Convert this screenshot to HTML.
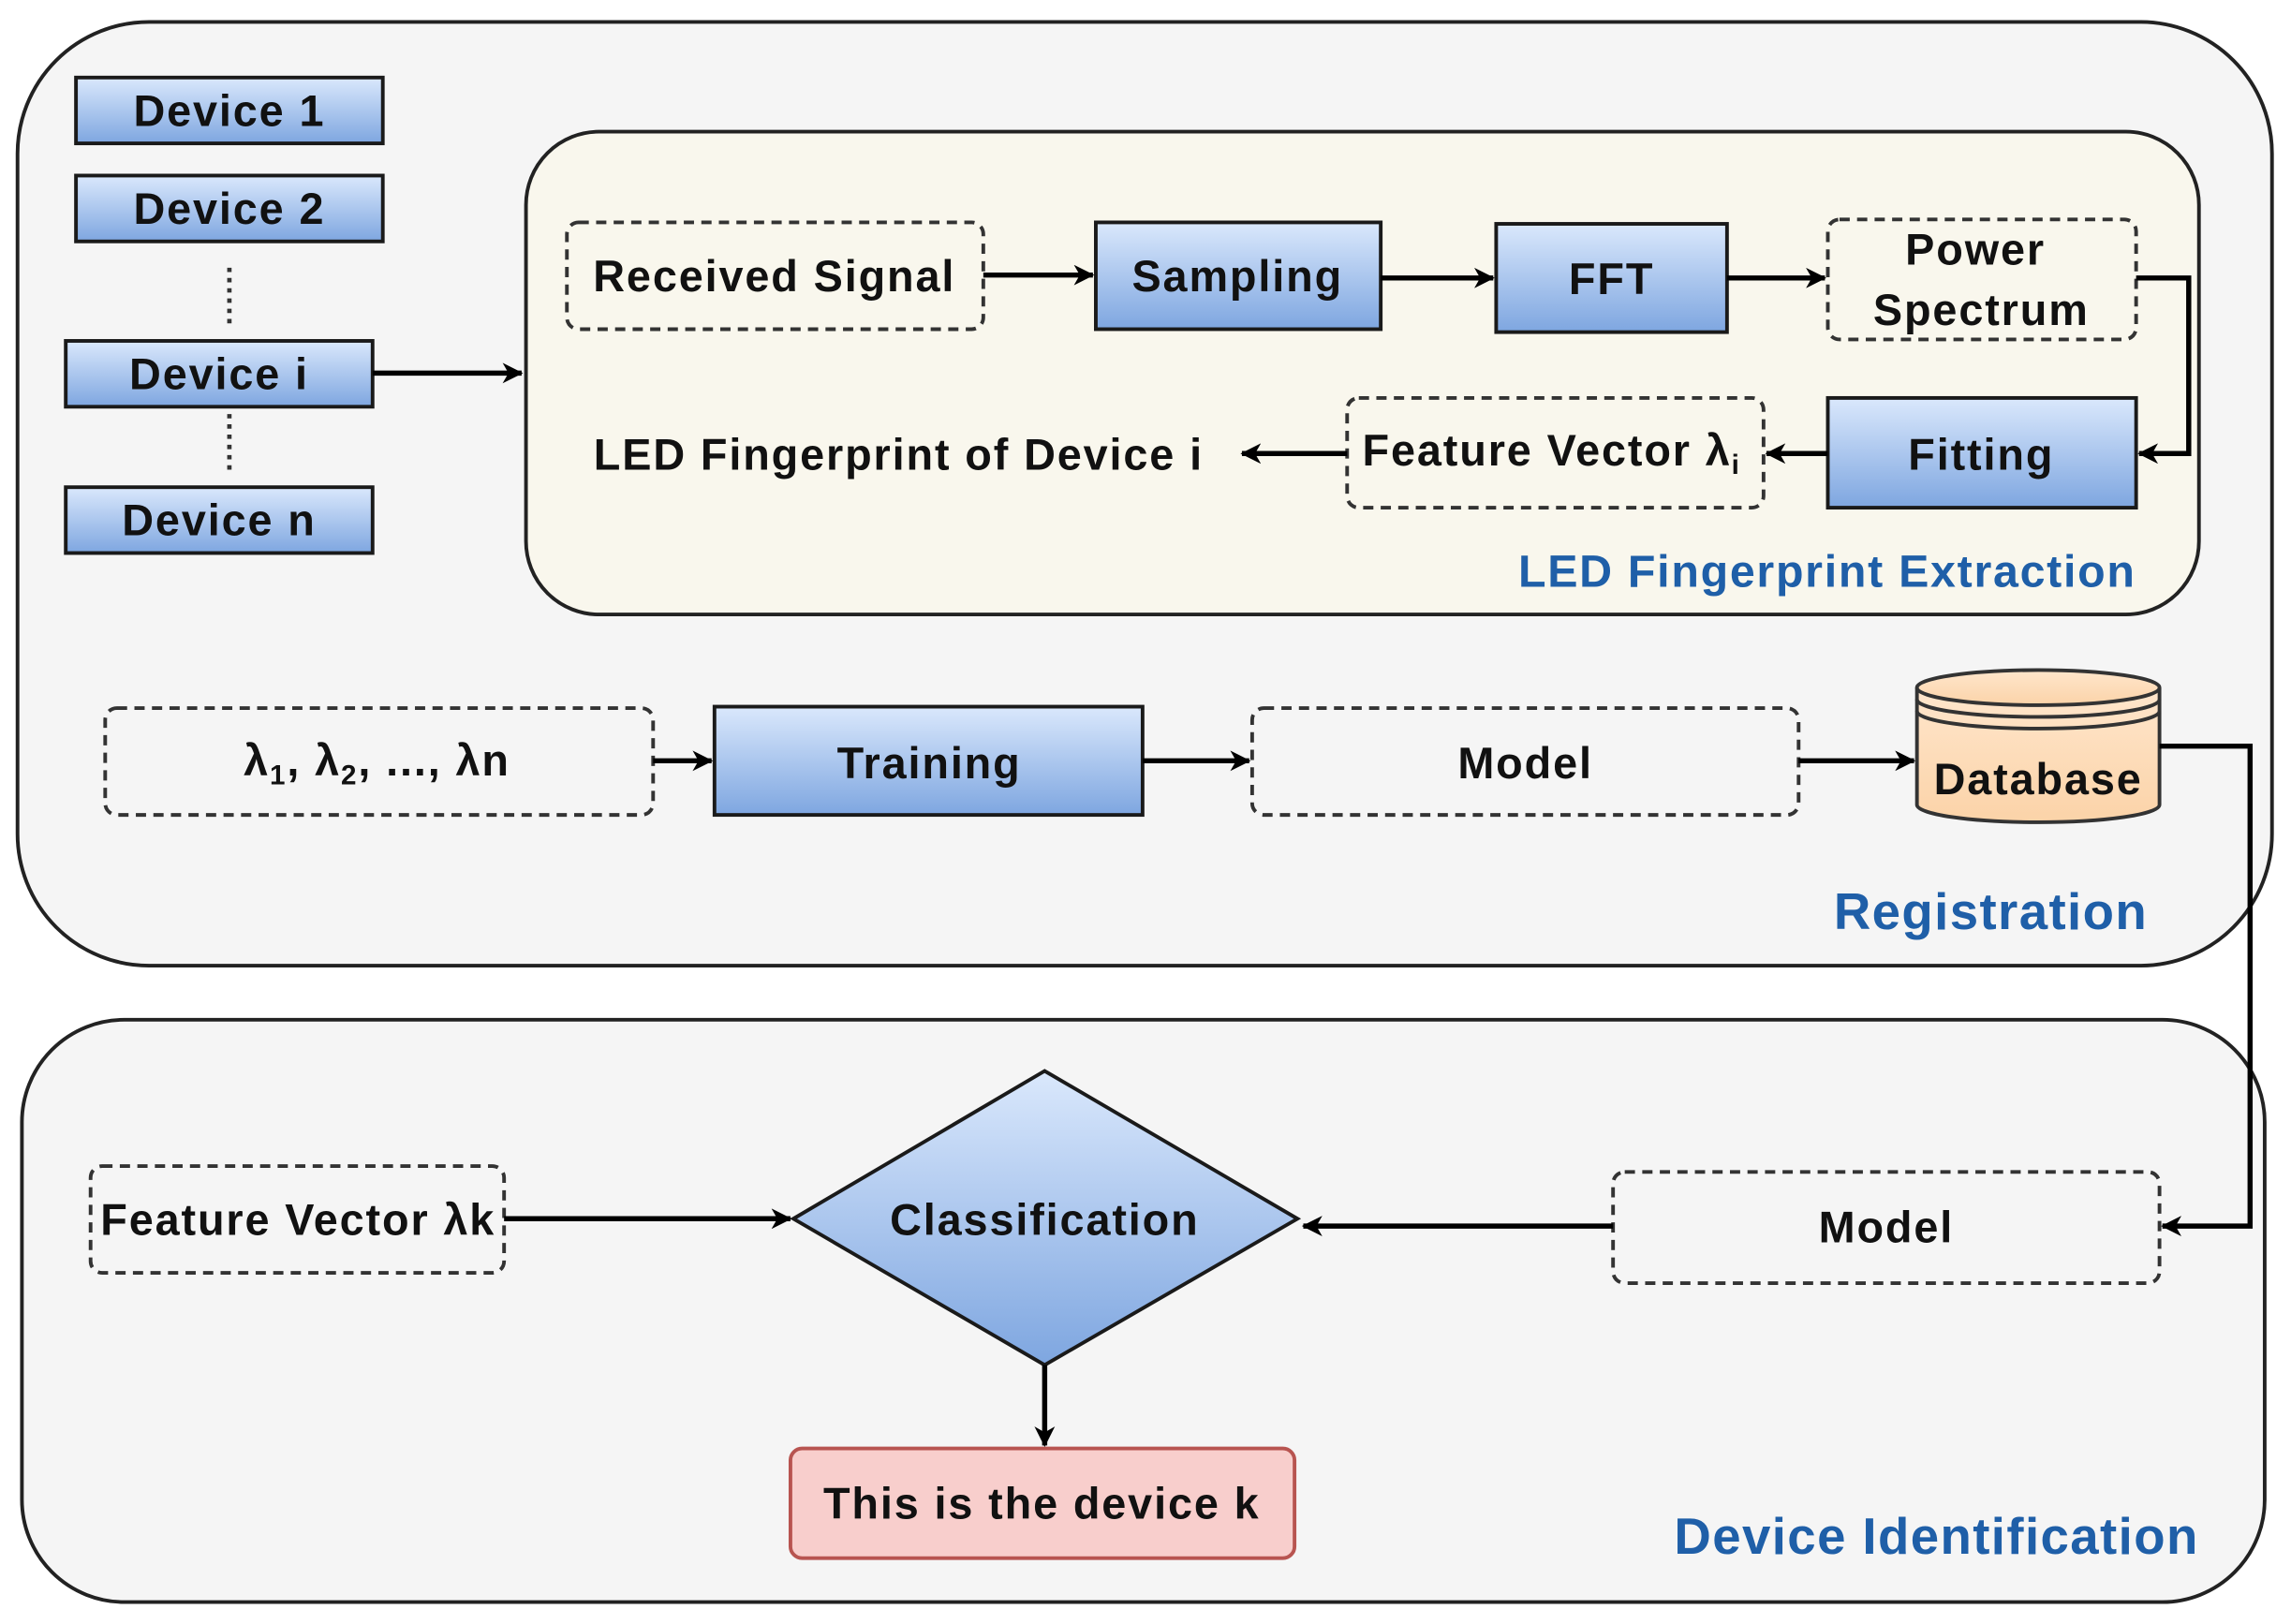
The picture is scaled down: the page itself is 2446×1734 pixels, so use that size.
<!DOCTYPE html>
<html><head><meta charset="utf-8"><style>
html,body{margin:0;padding:0;background:#fff;}
svg{display:block;}
text{font-family:"Liberation Sans",Arial,sans-serif;font-weight:bold;}
</style></head><body>
<svg width="2446" height="1734" viewBox="0 0 1568 1110" preserveAspectRatio="none" xmlns="http://www.w3.org/2000/svg">
<defs>
<linearGradient id="b" x1="0" y1="0" x2="0" y2="1"><stop offset="0" stop-color="#dae8fc"/><stop offset="1" stop-color="#7ea6e0"/></linearGradient>
<linearGradient id="o" x1="0" y1="0" x2="0" y2="1"><stop offset="0" stop-color="#ffe6cc"/><stop offset="1" stop-color="#fbd3a8"/></linearGradient>
<marker id="a" markerWidth="14" markerHeight="14" refX="13" refY="7" orient="auto" markerUnits="userSpaceOnUse"><path d="M0,0 L14,7 L0,14 L4,7 Z" fill="#000"/></marker>
</defs>
<g stroke="#222" stroke-width="2.5">
<rect x="12" y="15" width="1543" height="645" rx="90" fill="#f5f5f5"/>
<rect x="360" y="90" width="1145" height="330" rx="50" fill="#f9f7ed"/>
<rect x="15" y="697" width="1535" height="398" rx="70" fill="#f5f5f5"/>
</g>
<g stroke="#1a1a1a" stroke-width="2.5" fill="url(#b)">
<rect x="52" y="53" width="210" height="45"/>
<rect x="52" y="120" width="210" height="45"/>
<rect x="45" y="233" width="210" height="45"/>
<rect x="45" y="333" width="210" height="45"/>
<rect x="750" y="152" width="195" height="73"/>
<rect x="1024" y="153" width="158" height="74"/>
<rect x="1251" y="272" width="211" height="75"/>
<rect x="489" y="483" width="293" height="74"/>
<path d="M715,732 L888,833 L715,933 L543,833 Z"/>
</g>
<g stroke="#333" stroke-width="2.5" fill="none" stroke-dasharray="7,5">
<rect x="388" y="152" width="285" height="73" rx="8"/>
<rect x="1251" y="150" width="211" height="82" rx="8"/>
<rect x="922" y="272" width="285" height="75" rx="8"/>
<rect x="72" y="484" width="375" height="73" rx="8"/>
<rect x="857" y="484" width="374" height="73" rx="8"/>
<rect x="1104" y="801" width="374" height="76" rx="8"/>
<rect x="62" y="797" width="283" height="73" rx="8"/>
</g>
<g stroke="#333" stroke-width="3" stroke-dasharray="3,4">
<line x1="157" y1="183" x2="157" y2="222"/><line x1="157" y1="283" x2="157" y2="325"/>
</g>
<g stroke="#333" stroke-width="2.5" fill="url(#o)">
<path d="M1312,470 L1312,550 A83,12 0 0 0 1478,550 L1478,470"/>
<ellipse cx="1395" cy="470" rx="83" ry="12"/>
<path d="M1312,478 A83,12 0 0 0 1478,478 M1312,486 A83,12 0 0 0 1478,486" fill="none"/>
</g>
<rect x="541" y="990" width="345" height="75" rx="8" fill="#f8cecc" stroke="#b85450" stroke-width="2.5"/>
<g stroke="#000" stroke-width="3.5" fill="none" marker-end="url(#a)">
<line x1="255" y1="255" x2="357" y2="255"/>
<line x1="673" y1="188" x2="748" y2="188"/>
<line x1="945" y1="190" x2="1022" y2="190"/>
<line x1="1182" y1="190" x2="1249" y2="190"/>
<path d="M1462,190 L1498,190 L1498,310 L1464,310"/>
<line x1="1251" y1="310" x2="1209" y2="310"/>
<line x1="922" y1="310" x2="850" y2="310"/>
<line x1="447" y1="520" x2="487" y2="520"/>
<line x1="782" y1="520" x2="855" y2="520"/>
<line x1="1231" y1="520" x2="1310" y2="520"/>
<path d="M1478,510 L1540,510 L1540,838 L1480,838"/>
<line x1="1104" y1="838" x2="892" y2="838"/>
<line x1="345" y1="833" x2="541" y2="833"/>
<line x1="715" y1="933" x2="715" y2="988"/>
</g>
<g font-size="30" fill="#111" text-anchor="middle" letter-spacing="1.2">
<text x="157" y="86">Device 1</text>
<text x="157" y="153">Device 2</text>
<text x="150" y="266">Device i</text>
<text x="150" y="366">Device n</text>
<text x="530" y="199">Received Signal</text>
<text x="847" y="199">Sampling</text>
<text x="1103" y="201">FFT</text>
<text x="1352" y="181">Power</text>
<text x="1356" y="222">Spectrum</text>
<text x="1356" y="321">Fitting</text>
<text x="1062" y="318">Feature Vector λ<tspan font-size="19" dy="6">i</tspan></text>
<text x="615" y="321">LED Fingerprint of Device i</text>
<text x="258" y="530">λ<tspan font-size="19" dy="6">1</tspan><tspan dy="-6">, λ</tspan><tspan font-size="19" dy="6">2</tspan><tspan dy="-6">, ..., λn</tspan></text>
<text x="636" y="532">Training</text>
<text x="1044" y="532">Model</text>
<text x="1395" y="543">Database</text>
<text x="1291" y="849">Model</text>
<text x="204" y="844">Feature Vector λk</text>
<text x="715" y="844">Classification</text>
<text x="713" y="1038">This is the device k</text>
</g>
<g fill="#1f5fa8" text-anchor="end">
<text x="1462" y="401" font-size="31" letter-spacing="1.1">LED Fingerprint Extraction</text>
<text x="1470" y="635" font-size="35" letter-spacing="0.9">Registration</text>
<text x="1505" y="1062" font-size="35" letter-spacing="0.9">Device Identification</text>
</g>
</svg>
</body></html>
